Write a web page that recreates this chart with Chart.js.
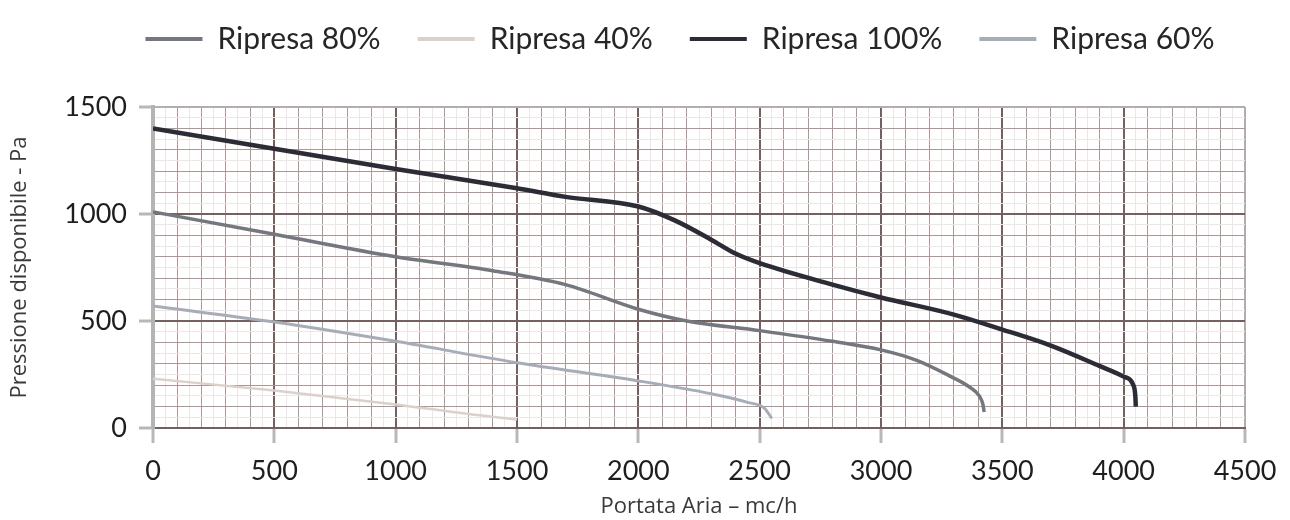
<!DOCTYPE html>
<html>
<head>
<meta charset="utf-8">
<script src="https://cdn.jsdelivr.net/npm/chart.js@4.4.1/dist/chart.umd.min.js"></script>
<style>
  html, body { margin: 0; padding: 0; background: #fff; }
</style>
</head>
<body>
<canvas id="curves" width="1290" height="520"></canvas>
<script>
// curve data (x = portata mc/h, y = pressione Pa)
const x80 = [0, 500, 1000, 1400, 1700, 2000, 2200, 2500, 2800, 3000, 3150, 3280, 3360, 3405, 3420, 3425];
const y80 = [1010, 905, 800, 735, 670, 555, 500, 455, 405, 365, 315, 245, 195, 150, 110, 75];

const x40 = [0, 500, 1000, 1300, 1500];
const y40 = [230, 175, 110, 65, 40];

const x100 = [0, 500, 1000, 1500, 1700, 2000, 2150, 2300, 2400, 2500, 2800, 3000, 3300, 3500, 3700, 3900, 4000, 4040, 4048, 4050];
const y100 = [1400, 1305, 1210, 1120, 1080, 1035, 970, 880, 815, 770, 670, 610, 530, 460, 385, 290, 240, 200, 150, 100];

const x60 = [0, 500, 1000, 1500, 2000, 2300, 2450, 2520, 2550];
const y60 = [570, 495, 405, 305, 220, 160, 120, 92, 45];

const seriesNames = ['Ripresa 80%', 'Ripresa 40%', 'Ripresa 100%', 'Ripresa 60%'];
const xTickLabels = [0, 500, 1000, 1500, 2000, 2500, 3000, 3500, 4000, 4500];
const yTickLabels = [0, 500, 1000, 1500];

function pts(xs, ys) {
    return xs.map((x, i) => ({ x: x, y: ys[i] }));
}

function line(label, xs, ys, color, width) {
    return {
        label: label,
        data: pts(xs, ys),
        borderColor: color,
        backgroundColor: color,
        borderWidth: width,
        pointRadius: 0,
        showLine: true,
        cubicInterpolationMode: 'monotone'
    };
}

// graph-paper style grid: heavy every 500, normal every 100, faint every 50
function gridColor(v, max) {
    if (v === max) return '#b3adad';
    if (v % 500 === 0) return '#756060';
    if (v % 100 === 0) return '#ad9696';
    return '#ede6e6';
}
function gridWidth(v) {
    if (v % 500 === 0) return 2;
    return 1;
}

const tickFont = { family: 'Lato', size: 27 };
const titleFont = { family: 'Open Sans', size: 22 };

const legendSpacer = {
    id: 'legendSpacer',
    afterInit(chart) {
        const lg = chart.legend;
        const fit = lg.fit;
        lg.fit = function () {
            fit.call(this);
            this.height += 30;
        };
    },
    afterLayout(chart) {
        // legend in the picture sits higher and right of centre
        chart.legend.left += 92;
        chart.legend.right += 23;
        chart.legend.top -= 13;
    }
};

const ctx = document.getElementById('curves').getContext('2d');
const chart = new Chart(ctx, {
    type: 'scatter',
    data: {
        datasets: [
            line(seriesNames[0], x80, y80, '#75777e', 3.5),
            line(seriesNames[1], x40, y40, '#d9d1ca', 2.5),
            line(seriesNames[2], x100, y100, '#2c2c36', 4.5),
            line(seriesNames[3], x60, y60, '#a7adb6', 3)
        ]
    },
    options: {
        responsive: false,
        devicePixelRatio: 1,
        animation: false,
        layout: { padding: { top: 0, right: 45, left: 0, bottom: 0 } },
        plugins: {
            tooltip: { enabled: false },
            legend: {
                position: 'top',
                labels: {
                    font: { family: 'Lato', size: 30 },
                    color: '#262626',
                    boxWidth: 57,
                    boxHeight: 4,
                    padding: 37,
                    generateLabels: (c) => Chart.defaults.plugins.legend.labels.generateLabels(c)
                        .map(l => Object.assign(l, { lineWidth: 0 }))
                }
            }
        },
        scales: {
            x: {
                type: 'linear',
                min: 0,
                max: 4500,
                afterFit: (s) => { s.height = 92; },
                ticks: {
                    stepSize: 50,
                    autoSkip: false,
                    maxTicksLimit: 1000,
                    maxRotation: 0,
                    font: tickFont,
                    color: '#1e1e1e',
                    padding: 12,
                    callback: (v) => xTickLabels.includes(v) ? String(v) : ''
                },
                grid: {
                    color: (c) => gridColor(c.tick.value, 4500),
                    lineWidth: (c) => gridWidth(c.tick.value),
                    tickLength: 15,
                    tickColor: (c) => c.tick && xTickLabels.includes(c.tick.value) ? '#b8b8b8' : 'rgba(0,0,0,0)',
                    tickWidth: 3
                },
                border: { color: '#756060', width: 2 },
                title: {
                    display: true,
                    text: 'Portata Aria – mc/h',
                    font: titleFont,
                    color: '#3a3a3a',
                    padding: { top: 0, bottom: 0 }
                }
            },
            y: {
                type: 'linear',
                min: 0,
                max: 1500,
                afterFit: (s) => { s.width = 153; },
                ticks: {
                    stepSize: 50,
                    autoSkip: false,
                    maxTicksLimit: 1000,
                    font: tickFont,
                    color: '#1e1e1e',
                    padding: 12,
                    callback: (v) => yTickLabels.includes(v) ? String(v) : ''
                },
                grid: {
                    color: (c) => gridColor(c.tick.value, 1500),
                    lineWidth: (c) => gridWidth(c.tick.value),
                    tickLength: 14,
                    tickColor: (c) => c.tick && yTickLabels.includes(c.tick.value) ? '#b8b8b8' : 'rgba(0,0,0,0)',
                    tickWidth: 3
                },
                border: { color: '#b4b4b4', width: 4 },
                title: {
                    display: true,
                    text: 'Pressione disponibile - Pa',
                    font: titleFont,
                    color: '#3a3a3a',
                    padding: { top: 7, bottom: 0 }
                }
            }
        }
    },
    plugins: [legendSpacer]
});
</script>
</body>
</html>
